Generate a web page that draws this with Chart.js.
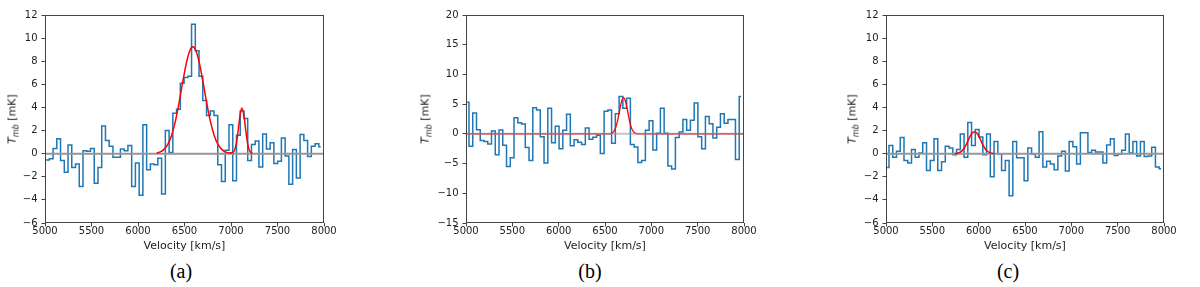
<!DOCTYPE html>
<html>
<head>
<meta charset="utf-8">
<script src="https://cdn.jsdelivr.net/npm/chart.js@4/dist/chart.umd.min.js"></script>
<style>
body { margin:0; background:#fff; width:1200px; height:287px; position:relative; overflow:hidden; font-family:'DejaVu Sans', sans-serif; }
canvas { position:absolute; top:0; }
.ylab { position:absolute; transform:translate(-50%,-50%) rotate(-90deg); white-space:nowrap; font-size:11px; color:#222; }
.ylab sub { font-size:8px; vertical-align:-3px; line-height:0; }
.cap { position:absolute; top:260px; width:60px; text-align:center; font-family:'Liberation Serif', serif; font-size:20px; line-height:22px; color:#000; }
</style>
</head>
<body>
<canvas id="panelA" width="340" height="253" style="left:0px"></canvas>
<canvas id="panelB" width="339" height="253" style="left:421px"></canvas>
<canvas id="panelC" width="339" height="253" style="left:841px"></canvas>

<div class="ylab" style="left:12px;top:119px"><i>T</i><sub><i>mb</i></sub> [mK]</div>
<div class="ylab" style="left:425px;top:119px"><i>T</i><sub><i>mb</i></sub> [mK]</div>
<div class="ylab" style="left:852px;top:119px"><i>T</i><sub><i>mb</i></sub> [mK]</div>

<div class="cap" style="left:151px">(a)</div>
<div class="cap" style="left:560px">(b)</div>
<div class="cap" style="left:978px">(c)</div>

<script>
const FONT = "'DejaVu Sans', sans-serif";

// channel grids (first channel centre, channel width) in km/s
const velStartA = 4986, velStepA = 40.25;
const velStartBC = 5012, velStepBC = 40.5;

// spectra, T_mb in mK per channel
const tempA = [-0.55, -0.55, -0.45, 0.45, 1.3, -0.6, -1.6, 0.75, -1.2, -0.9, -2.85,
  0.25, 0.2, 0.45, -2.55, -1.2, 2.4, 1.15, 0.65, -0.3, -0.3,
  0.4, 0.25, 0.7, -2.85, -0.8, -3.6, 2.5, -1.4, -0.9, -0.95,
  -0.4, -3.5, 2.0, 0.1, 3.5, 3.85, 6.1, 6.6, 6.7, 11.2,
  8.9, 6.7, 4.6, 3.3, 3.7, 3.3, -0.95, -2.4, 0.3, 2.5,
  -2.35, 1.6, 3.7, 3.05, -0.6, 0.8, 1.1, -1.15, 1.7, 0.4,
  0.95, -0.85, -0.65, 1.35, -0.2, -2.65, 0.35, -2.1, 1.65, 1.15,
  -0.25, 0.65, 0.85, 0.6];

const tempB = [5.3, -2.1, 3.5, 0.7, -1.1, -1.3, -1.7, 0.5, -3.5, 0.65,
  -1.9, -5.5, -4.0, 2.7, 1.85, 1.65, -2.3, -4.5, 4.4, 4.0,
  -0.5, -4.9, 4.3, -1.5, 1.3, -2.5, 0.6, 3.3, -2.0, -1.0,
  -1.4, -1.8, 1.0, -0.9, -0.55, -0.25, -3.3, 3.8, 4.0, -1.6,
  3.4, 6.3, 4.3, 6.0, -1.8, -2.2, -4.8, -4.5, 0.6, 2.2,
  -2.7, 0.1, 4.3, 0.1, -5.4, -5.9, -0.6, 0.3, 2.4, 0.6,
  2.3, 5.2, -0.5, -2.5, 2.9, 1.7, -0.7, 1.1, 3.4, 1.8,
  2.4, 2.4, -4.3, 6.3];

const tempC = [-1.2, 0.7, -0.3, 0.2, 1.4, -0.6, -0.8, 0.35, -0.3, 0.05,
  0.95, -1.45, -0.6, 1.3, -1.45, -0.7, 0.65, 0.5, -0.1, 0.35,
  1.7, -0.3, 2.7, 0.7, 2.1, 1.45, -0.1, 1.7, -2.0, 1.05,
  0.0, -1.45, -0.6, -3.65, 1.05, -0.35, -0.35, -2.35, 0.5, -0.05,
  -0.3, 1.9, -1.15, -0.65, -0.9, -1.4, -0.2, 0.2, -1.5, 1.05,
  0.6, -0.9, 1.8, 1.8, 0.1, 0.3, 0.15, 0.15, -0.8, 0.75,
  1.3, -0.15, -0.05, 0.3, 1.7, 0.05, 1.05, -0.2, 1.05, -0.25,
  -0.2, 0.55, -1.15, -1.3];

// gaussian fits
const fitVelA = [6200, 6240, 6280, 6320, 6360, 6400, 6440, 6480, 6520, 6560, 6590, 6620, 6660, 6700,
  6740, 6780, 6820, 6860, 6900, 6940, 6980, 7020, 7040, 7060, 7080, 7100, 7118, 7140, 7160, 7180, 7200, 7230];
const fitTempA = [0.06, 0.15, 0.37, 0.8, 1.56, 2.75, 4.34, 6.16, 7.84, 8.97, 9.25, 8.97, 7.84, 6.16,
  4.34, 2.75, 1.56, 0.8, 0.37, 0.15, 0.06, 0.1, 0.34, 1.0, 2.19, 3.46, 3.95, 3.24, 1.92, 0.82, 0.25, 0.02];

const fitVelB = [5000, 6540, 6580, 6600, 6620, 6640, 6660, 6680, 6700, 6720, 6740, 6760, 6780, 6800, 6820, 6860, 8000];
const fitTempB = [0, 0.01, 0.17, 0.52, 1.26, 2.51, 4.11, 5.53, 6.1, 5.53, 4.11, 2.51, 1.26, 0.52, 0.17, 0.01, 0];

const fitVelC = [5740, 5780, 5820, 5860, 5900, 5930, 5955, 5980, 6005, 6045, 6085, 6125, 6170];
const fitTempC = [0.01, 0.06, 0.24, 0.7, 1.38, 1.79, 1.9, 1.78, 1.45, 0.76, 0.27, 0.07, 0.01];

const axisVel = [5000, 8000];

function stepPoints(v0, dv, temps) {
  return temps.map((t, i) => ({x: v0 + i * dv, y: t}));
}
function pairs(xs, ys) {
  return xs.map((x, i) => ({x: x, y: ys[i]}));
}

// box round the plot, like matplotlib spines
const framePlugin = {
  id: 'frame',
  afterDatasetsDraw(chart) {
    const a = chart.chartArea;
    const c = chart.ctx;
    c.save();
    c.strokeStyle = '#444';
    c.lineWidth = 1;
    c.strokeRect(Math.round(a.left) + 0.5, Math.round(a.top) + 0.5,
      Math.round(a.right - a.left) - 1, Math.round(a.bottom - a.top) - 1);
    c.restore();
  }
};

// zeroOnTop: in (b) the fit runs the whole range and shows through the grey zero line
function makePanel(id, steps, fitPts, yMin, yMax, yStep, zeroOnTop) {
  return new Chart(document.getElementById(id), {
    type: 'line',
    data: {
      datasets: [
        {data: fitPts, borderColor: '#ff0000', borderWidth: zeroOnTop ? 1.3 : 1.5, pointRadius: 0,
         cubicInterpolationMode: 'monotone', order: zeroOnTop ? 1 : 0},
        {data: axisVel.map(v => ({x: v, y: 0})),
         borderColor: zeroOnTop ? 'rgba(150,150,150,0.55)' : '#969696', borderWidth: 2,
         pointRadius: 0, order: zeroOnTop ? 0 : 1},
        {data: steps, borderColor: '#1f77b4', borderWidth: 1.5, pointRadius: 0,
         stepped: 'middle', order: 2}
      ]
    },
    options: {
      responsive: false,
      animation: false,
      events: [],
      layout: {padding: {left: 0, right: 16, top: 15, bottom: 0}},
      plugins: {legend: {display: false}, tooltip: {enabled: false}},
      scales: {
        x: {
          type: 'linear', min: 5000, max: 8000,
          afterFit: s => { s.height = 30; },
          ticks: {stepSize: 500, autoSkip: false, maxRotation: 0, padding: 0, color: '#222',
                  font: {family: FONT, size: 10, lineHeight: 1}, callback: v => String(v)},
          grid: {drawOnChartArea: false, tickLength: 3.5, color: '#444'},
          border: {display: false},
          title: {display: true, text: 'Velocity [km/s]', color: '#222', padding: 0,
                  font: {family: FONT, size: 11}}
        },
        y: {
          min: yMin, max: yMax,
          afterFit: s => { s.width = 45; },
          ticks: {stepSize: yStep, padding: 4, color: '#222',
                  font: {family: FONT, size: 10},
                  callback: v => String(v).replace('-', '\u2212')},
          grid: {drawOnChartArea: false, tickLength: 3.5, color: '#444'},
          border: {display: false}
        }
      }
    },
    plugins: [framePlugin]
  });
}

makePanel('panelA', stepPoints(velStartA, velStepA, tempA), pairs(fitVelA, fitTempA), -6, 12, 2, false);
makePanel('panelB', stepPoints(velStartBC, velStepBC, tempB), pairs(fitVelB, fitTempB), -15, 20, 5, true);
makePanel('panelC', stepPoints(velStartBC, velStepBC, tempC), pairs(fitVelC, fitTempC), -6, 12, 2, false);
</script>
</body>
</html>
